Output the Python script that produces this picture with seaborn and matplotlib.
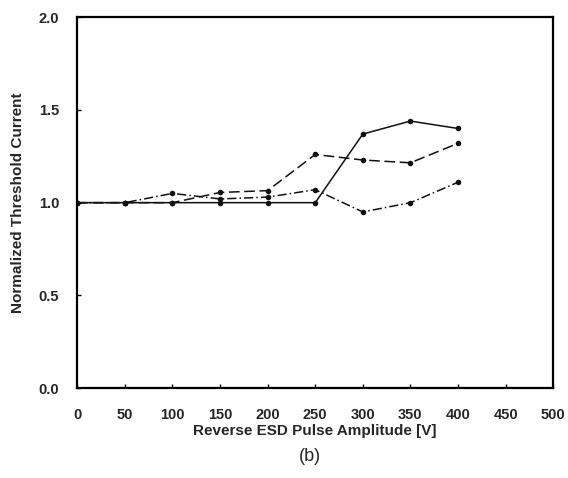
import matplotlib
matplotlib.use("Agg")
import matplotlib.pyplot as plt
import seaborn as sns
import pandas as pd

# Reverse ESD pulse amplitude (V)
amplitude = [0, 50, 100, 150, 200, 250, 300, 350, 400]

# Normalized threshold current for three devices
device_a = [1.00, 1.00, 1.00, 1.055, 1.065, 1.26, 1.23, 1.215, 1.32]
device_b = [1.00, 1.00, 1.00, 1.00, 1.00, 1.00, 1.37, 1.44, 1.40]
device_c = [1.00, 1.00, 1.05, 1.02, 1.03, 1.07, 0.95, 1.00, 1.11]

series_names = ["A", "B", "C"]

x_ticks = [0, 50, 100, 150, 200, 250, 300, 350, 400, 450, 500]
y_ticks = [0.0, 0.5, 1.0, 1.5, 2.0]

rows = []
for name, vals in zip(series_names, [device_a, device_b, device_c]):
    for x, y in zip(amplitude, vals):
        rows.append({"amp": x, "ith": y, "dev": name})
df = pd.DataFrame(rows)

sns.set_style("white")
plt.rcParams["font.family"] = ["Liberation Sans", "DejaVu Sans"]

fig = plt.figure(figsize=(5.68, 4.78), dpi=100)
ax = fig.add_axes([0.136, 0.188, 0.838, 0.776])

styles = {"A": (0, (7, 3)), "B": "-", "C": (0, (6, 2, 1, 2))}
for name in series_names:
    sub = df[df["dev"] == name]
    sns.lineplot(data=sub, x="amp", y="ith", ax=ax, color="#111111",
                 linewidth=1.1, linestyle=styles[name], marker="o",
                 markersize=4, markeredgewidth=0, legend=False)

ax.set_xlim(0, 500)
ax.set_ylim(0, 2.0)
ax.set_xticks(x_ticks)
ax.set_yticks(y_ticks)
ax.set_xticklabels([str(t) for t in x_ticks], fontweight="bold", fontsize=10.5)
ax.set_yticklabels([f"{t:.1f}" for t in y_ticks], fontweight="bold", fontsize=10.5)
ax.tick_params(axis="both", direction="in", length=3, width=1, color="black",
               bottom=True, left=True)
ax.tick_params(axis="x", pad=14)
ax.tick_params(axis="y", pad=13)

for sp in ax.spines.values():
    sp.set_color("black")
    sp.set_linewidth(1.6)

ax.set_xlabel("Reverse ESD Pulse Amplitude [V]", fontweight="bold", fontsize=11, labelpad=2)
ax.set_ylabel("Normalized Threshold Current", fontweight="bold", fontsize=11, labelpad=10)

fig.text(0.545, 0.044, "(b)", ha="center", va="center", fontsize=13)

fig.savefig("out.png", dpi=100, facecolor="white")
